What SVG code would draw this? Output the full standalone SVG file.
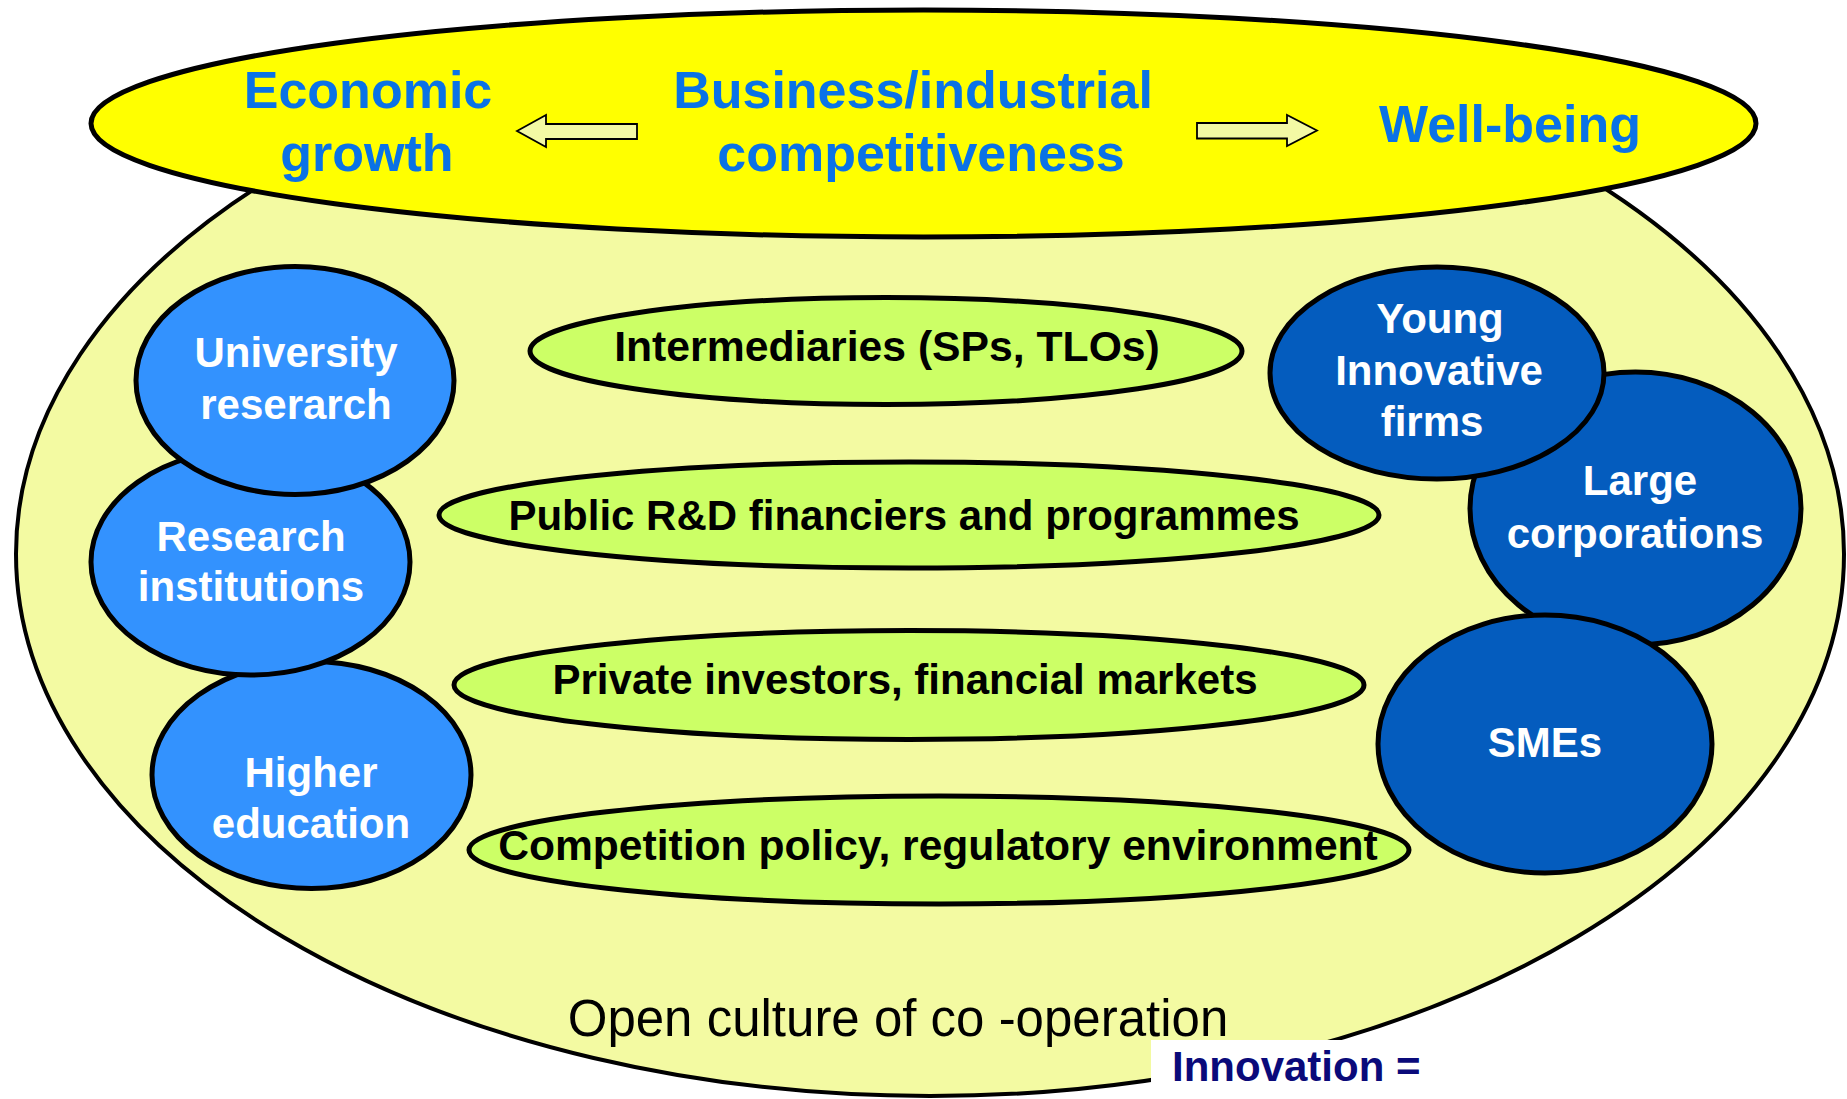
<svg xmlns="http://www.w3.org/2000/svg" width="1847" height="1099" viewBox="0 0 1847 1099">
<style>
.bold{font-family:"Liberation Sans",Arial,sans-serif;font-weight:bold;text-anchor:middle}
.title{font-size:52px;fill:#0A72E6}
.lbl{font-size:42px}
.w{fill:#FFFFFF}
.k{fill:#000000}
.lb{fill:#3392FE;stroke:#000;stroke-width:5}
.db{fill:#045CBE;stroke:#000;stroke-width:5}
.gr{fill:#CCFF66;stroke:#000;stroke-width:5}
.arr{fill:#F3F9A4;stroke:#000;stroke-width:1.8}
</style>
<rect width="1847" height="1099" fill="#FFFFFF"/>
<g id="system">
<ellipse cx="930" cy="554" rx="914" ry="542" fill="#F3FAA2" stroke="#000" stroke-width="4"/>
</g>
<g id="outcomes">
<ellipse cx="923.5" cy="123.5" rx="832.5" ry="113.5" fill="#FFFF00" stroke="#000" stroke-width="5"/>
<text class="bold title" x="368" y="108">Economic</text>
<text class="bold title" x="367" y="171">growth</text>
<text class="bold title" x="913" y="108">Business/industrial</text>
<text class="bold title" x="921" y="171">competitiveness</text>
<text class="bold title" x="1510" y="142">Well-being</text>
</g>
<g id="connectors">
<polygon class="arr" points="517,131 546,115 546,124 637,124 637,139 546,139 546,147"/>
<polygon class="arr" points="1317,130.5 1287,115 1287,123 1197,123 1197,138.5 1287,138.5 1287,146"/>
</g>
<g id="intermediaries">
<ellipse class="gr" cx="886" cy="351" rx="356" ry="53.5"/>
<text class="bold k" font-size="42.7" x="887" y="361">Intermediaries (SPs, TLOs)</text>
</g>
<g id="public-rd">
<ellipse class="gr" cx="909" cy="515" rx="470" ry="53"/>
<text class="bold lbl k" x="904" y="530">Public R&amp;D financiers and programmes</text>
</g>
<g id="private-investors">
<ellipse class="gr" cx="909" cy="685" rx="455" ry="54.5"/>
<text class="bold lbl k" x="905" y="694">Private investors, financial markets</text>
</g>
<g id="competition-policy">
<ellipse class="gr" cx="939" cy="850" rx="470" ry="54"/>
<text class="bold k" font-size="42.6" x="938" y="860">Competition policy, regulatory environment</text>
</g>
<g id="higher-education">
<ellipse class="lb" cx="311.5" cy="775" rx="159.5" ry="113.5"/>
<text class="bold lbl w" x="311" y="787">Higher</text>
<text class="bold lbl w" x="311" y="838">education</text>
</g>
<g id="research-institutions">
<ellipse class="lb" cx="250.5" cy="562" rx="159.5" ry="113"/>
<text class="bold lbl w" x="251" y="551">Research</text>
<text class="bold lbl w" x="251" y="601">institutions</text>
</g>
<g id="university-research">
<ellipse class="lb" cx="295" cy="380.5" rx="159" ry="114"/>
<text class="bold lbl w" x="296" y="367">University</text>
<text class="bold lbl w" x="296" y="419">reserarch</text>
</g>
<g id="large-corporations">
<ellipse class="db" cx="1635.5" cy="508.5" rx="165.5" ry="136.5"/>
<text class="bold lbl w" x="1640" y="495">Large</text>
<text class="bold lbl w" x="1635" y="548">corporations</text>
</g>
<g id="smes">
<ellipse class="db" cx="1545" cy="744" rx="167" ry="129"/>
<text class="bold lbl w" x="1545" y="757">SMEs</text>
</g>
<g id="young-innovative-firms">
<ellipse class="db" cx="1437" cy="373" rx="167" ry="106"/>
<text class="bold lbl w" x="1440" y="333">Young</text>
<text class="bold lbl w" x="1439" y="385">Innovative</text>
<text class="bold lbl w" x="1432" y="436">firms</text>
</g>
<g id="culture">
<text x="898" y="1036" font-family="'Liberation Sans',Arial,sans-serif" font-size="51" text-anchor="middle" fill="#000">Open culture of co -operation</text>
</g>
<g id="innovation">
<rect x="1151" y="1040" width="320" height="59" fill="#FFFFFF"/>
<text x="1172" y="1081" font-family="'Liberation Sans',Arial,sans-serif" font-weight="bold" font-size="42" fill="#0A0A7A">Innovation =</text>
</g>
</svg>
